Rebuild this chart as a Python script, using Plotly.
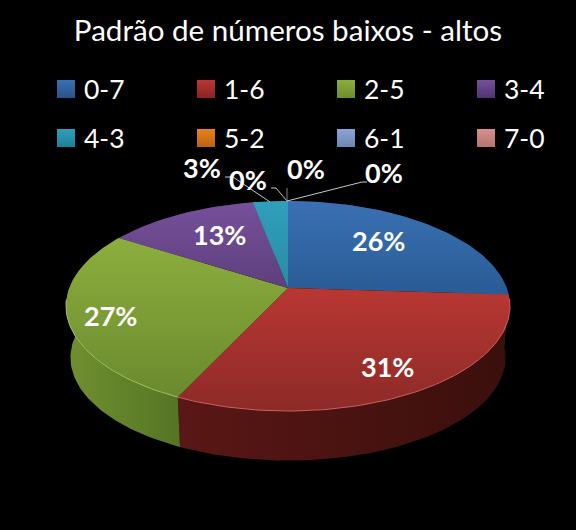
import numpy as np
import plotly.graph_objects as go

CATEGORIES = ['0-7', '1-6', '2-5', '3-4', '4-3', '5-2', '6-1', '7-0']
VALUES = [26, 31, 27, 13, 3, 0, 0, 0]
TITLE = 'Padrão de números baixos - altos'

# Colours (top of slice, bottom of slice, wall left, wall right)
TOP_LIGHT = ['#3a70b4', '#b93733', '#8cae3e', '#76509b', '#2f9fbb', '#e8821e', '#8aa6d6', '#d68f8d']
TOP_DARK = ['#295c94', '#8c2a27', '#6a8a2e', '#5e3f7c', '#2a8ba4', '#c56f18', '#7690ba', '#b87a78']
WALL_LEFT = ['#1d3f66', '#5a1715', '#70902f', '#3d2a55', '#1d6274', '#8a4e10', '#55688a', '#80504e']
WALL_RIGHT = ['#1d3f66', '#3a0f0c', '#557526', '#3d2a55', '#1d6274', '#8a4e10', '#55688a', '#80504e']
RIM = ['#4f81bd', '#d0605c', '#a4c463', '#8a6bb0', '#5ab8d0', '#f79646', '#a0b8e0', '#e0a0a0']
SWATCH_DARK = ['#2a5288', '#8a2422', '#6f8c2c', '#4e3570', '#1f7f96', '#b9640f', '#6c86b4', '#b57371']

# Pie projection in pixels
CX, CY, A, B, K = 288, 288, 218.7, 101.9, 0.1716
BOTTOM_SCALE, BOTTOM_DY = 0.98, 52


def rim(theta, scale=1.0, dy=0.0):
    x = np.sin(theta)
    y = np.cos(theta)
    w = 1 + K * y
    return CX + A * scale * x / w, CY + dy - B * scale * y / w


fig = go.Figure()

fractions = np.cumsum([0] + VALUES) / sum(VALUES)
arcs = []
for i, v in enumerate(VALUES):
    n = max(2, int(v * 3))
    arcs.append(np.linspace(fractions[i], fractions[i + 1], n) * 2 * np.pi)

# walls first, the top surfaces cover what is behind them
for i, theta in enumerate(arcs):
    if VALUES[i] == 0:
        continue
    tx, ty = rim(theta)
    bx, by = rim(theta, BOTTOM_SCALE, BOTTOM_DY)
    fig.add_trace(go.Scatter(
        x=np.concatenate([tx, bx[::-1]]),
        y=np.concatenate([ty, by[::-1]]),
        mode='lines',
        fill='toself',
        line=dict(width=0),
        fillgradient=dict(type='horizontal',
                          colorscale=[[0, WALL_LEFT[i]], [1, WALL_RIGHT[i]]]),
        hoverinfo='skip',
    ))

for i, theta in enumerate(arcs):
    if VALUES[i] == 0:
        continue
    tx, ty = rim(theta)
    # the y axis runs downward, so the scale is given bottom colour first
    fig.add_trace(go.Scatter(
        x=np.concatenate([[CX], tx, [CX]]),
        y=np.concatenate([[CY], ty, [CY]]),
        mode='lines',
        fill='toself',
        line=dict(width=0),
        fillgradient=dict(type='vertical',
                          colorscale=[[0, TOP_DARK[i]], [1, TOP_LIGHT[i]]]),
        name=CATEGORIES[i],
        text=f'{CATEGORIES[i]}: {VALUES[i]}%',
        hoverinfo='text',
    ))

# Light edge along the front of the top surface
for i, theta in enumerate(arcs):
    front = theta[np.cos(theta) < -0.1]
    if len(front) < 2:
        continue
    tx, ty = rim(front)
    fig.add_trace(go.Scatter(x=tx, y=ty, mode='lines', line=dict(width=1, color=RIM[i]),
                             hoverinfo='skip'))

# Leader lines
leaders = [
    ([270, 233, 225], [202, 177, 177], '#c8c8c8'),
    ([287, 276, 271], [201, 188, 188], '#c8c8c8'),
    ([287, 287], [201, 188], '#808080'),
    ([287, 362, 367], [201, 182, 182], '#c8c8c8'),
]
for lx, ly, lc in leaders:
    fig.add_trace(go.Scatter(x=lx, y=ly, mode='lines', line=dict(width=1, color=lc),
                             hoverinfo='skip'))

# Legend keys, 4 columns by 2 rows
legend_x = [66 + 140 * (i % 4) for i in range(len(CATEGORIES))]
legend_y = [89 + 49 * (i // 4) for i in range(len(CATEGORIES))]
fig.add_trace(go.Scatter(
    x=legend_x,
    y=legend_y,
    mode='markers',
    marker=dict(symbol='square', size=18, color=TOP_LIGHT,
                gradient=dict(type='vertical', color=SWATCH_DARK),
                line=dict(width=0)),
    hoverinfo='skip',
))

for i, cat in enumerate(CATEGORIES):
    fig.add_annotation(x=legend_x[i] + 16, y=legend_y[i], text=cat, showarrow=False,
                       xanchor='left', yanchor='middle',
                       font=dict(size=26.5, color='white'))

# Data labels
label_x = [378, 387, 110, 219, 202, 248, 306, 384]
label_y = [240.5, 366, 315, 234, 167, 179, 168, 172]
for i, v in enumerate(VALUES):
    fig.add_annotation(x=label_x[i], y=label_y[i], text=f'<b>{v}%</b>', showarrow=False,
                       font=dict(size=27, color='white'))

fig.update_layout(
    title=dict(text=TITLE, x=0.5, xanchor='center', y=1 - 31 / 530, yanchor='middle',
               font=dict(size=29.6, color='white')),
    width=576,
    height=530,
    margin=dict(l=0, r=0, t=0, b=0),
    paper_bgcolor='black',
    plot_bgcolor='black',
    showlegend=False,
    font=dict(family='Lato'),
    xaxis=dict(visible=False, range=[0, 576], fixedrange=True),
    yaxis=dict(visible=False, range=[530, 0], fixedrange=True),
)

fig.write_html("out.html", config={'displayModeBar': False},
               post_script="document.body.style.margin='0'")
